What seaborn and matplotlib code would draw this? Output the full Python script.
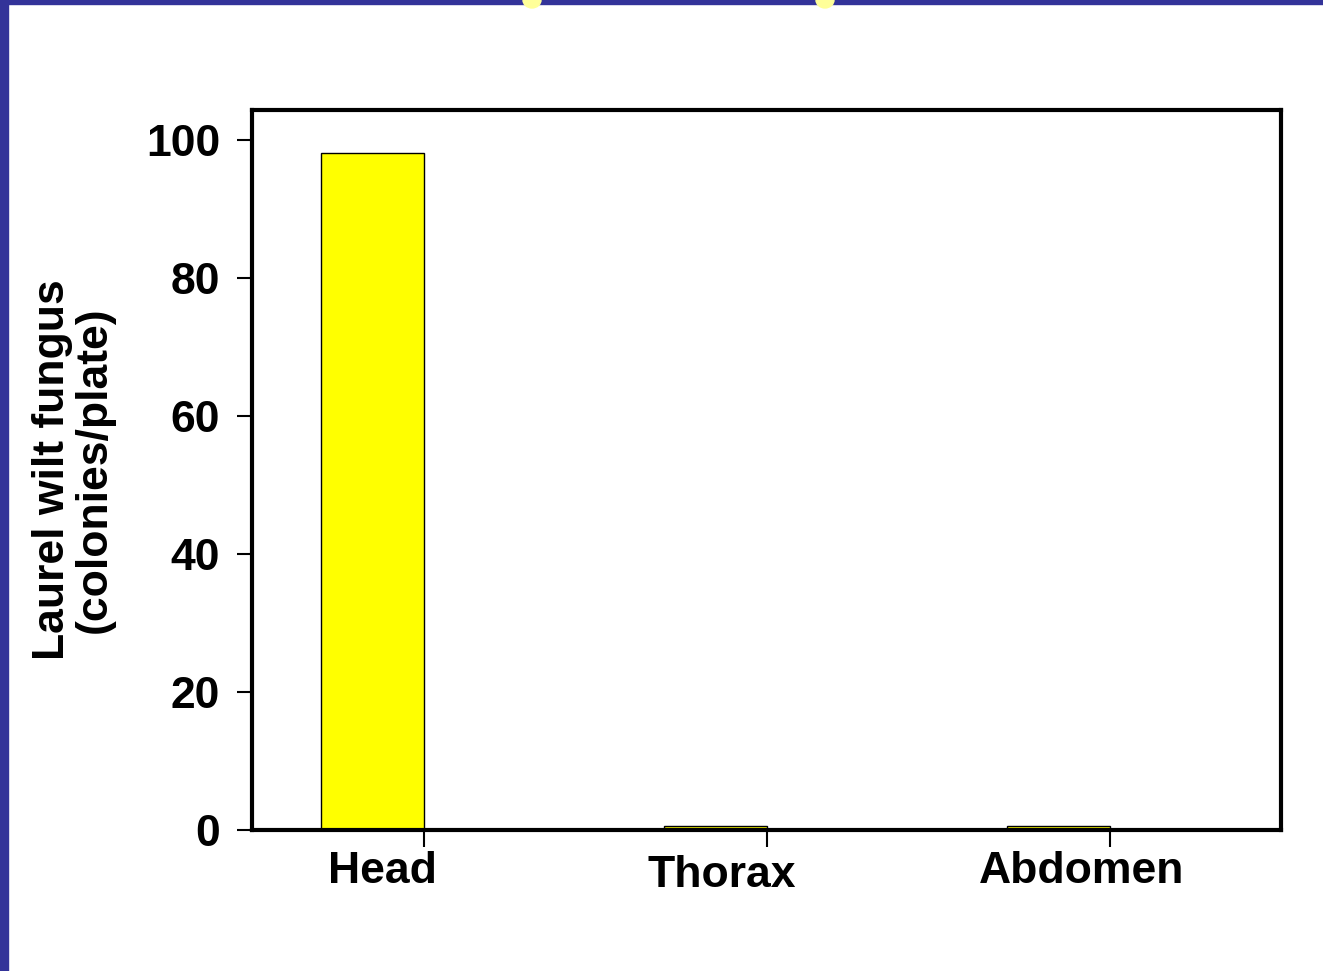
import matplotlib
matplotlib.use("Agg")
import matplotlib.pyplot as plt
import matplotlib.patches as mpatches
import seaborn as sns
import pandas as pd

# values
parts = ["Head", "Thorax", "Abdomen"]
colonies = [98.0, 0.6, 0.6]
yticks = [0, 20, 40, 60, 80, 100]

df = pd.DataFrame({"part": parts, "colonies": colonies, "series": ["fungus"] * 3})

sns.set_style("white")
plt.rcParams["font.family"] = ["Liberation Sans", "DejaVu Sans"]
plt.rcParams["text.color"] = "black"
plt.rcParams["axes.labelcolor"] = "black"
plt.rcParams["xtick.color"] = "black"
plt.rcParams["ytick.color"] = "black"

fig = plt.figure(figsize=(13.23, 9.71), dpi=100)
ax = fig.add_axes([252 / 1323, 1 - 830 / 971, 1029 / 1323, 720 / 971])

sns.barplot(data=df, x="part", y="colonies", hue="series",
            hue_order=["fungus", "empty"], palette=["#FFFF00", "#FFFFFF"],
            saturation=1, width=0.6, dodge=True, edgecolor="black", linewidth=1,
            legend=False, ax=ax)

ax.set_ylim(0, 104.3)
ax.set_xlim(-0.5, 2.5)
ax.set_yticks(yticks)
ax.set_yticklabels([str(t) for t in yticks], fontsize=32, fontweight="bold")

# tick marks at category centres, labels slightly to the left
ax.set_xticks([0, 1, 2])
ax.set_xticklabels([])
ax.tick_params(axis="x", direction="out", length=12, width=1.5, color="black", bottom=True)
ax.tick_params(axis="y", direction="out", length=11, width=1.5, color="black", left=True, pad=12)
label_off = [-0.12, -0.13, -0.08]
label_y = [-6.0, -6.6, -6.0]
for i, p in enumerate(parts):
    ax.text(i + label_off[i], label_y[i], p, ha="center", va="center", color="black",
            fontsize=32, fontweight="bold", transform=ax.transData, clip_on=False)

ax.set_xlabel("")
ax.set_ylabel("Laurel wilt fungus\n(colonies/plate)", fontsize=32, fontweight="bold",
              labelpad=22, linespacing=1.05)

for s in ax.spines.values():
    s.set_linewidth(3)
    s.set_color("black")
    s.set_visible(True)

# slide frame: blue strips on the left and top, with bits of the yellow title
blue = "#333399"
fig.patches.append(mpatches.Rectangle((0, 0), 8 / 1323, 1, transform=fig.transFigure,
                                      color=blue, zorder=5))
fig.patches.append(mpatches.Rectangle((0, 1 - 4 / 971), 1, 4 / 971, transform=fig.transFigure,
                                      color=blue, zorder=5))
for cx in [532, 825]:
    fig.patches.append(mpatches.Ellipse((cx / 1323, 1 - 0 / 971), 18 / 1323, 16 / 971,
                                        transform=fig.transFigure, color="#FFFF99", zorder=6))

fig.savefig("out.png", dpi=100)
